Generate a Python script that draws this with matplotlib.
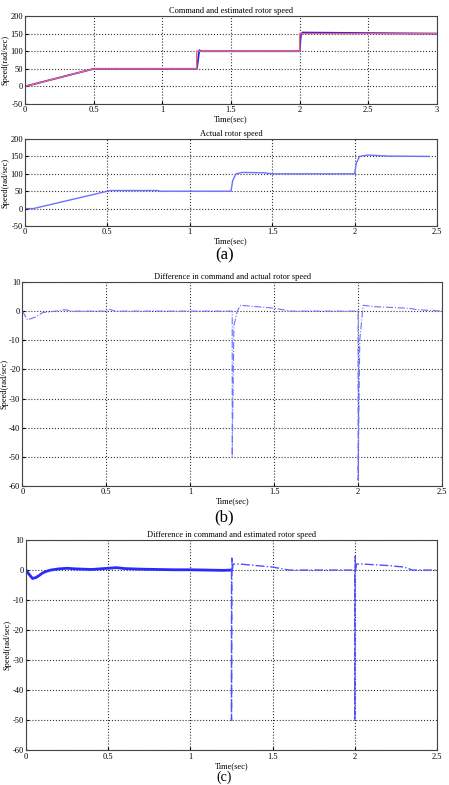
import matplotlib
matplotlib.use("Agg")
import matplotlib.pyplot as plt

plt.rcParams['font.family'] = ['Liberation Serif', 'DejaVu Serif']

# (a) top: command vs estimated speed
cmd_t = [0, 0.5, 1.25, 1.25, 2.0, 2.0, 3.0]
cmd_v = [0, 50, 50, 100, 100, 150, 150]
est_t = [0, 0.5, 1.25, 1.255, 1.26, 1.265, 1.27, 1.28, 2.0, 2.005, 2.01, 2.02, 3.0]
est_v = [0, 50, 50, 60, 75, 92, 103, 100, 100, 130, 148, 153, 150]

# (a) bottom: actual speed
act_t = [0, 0.05, 0.5, 0.52, 0.8, 0.82, 1.25, 1.26, 1.28, 1.32, 1.45, 1.5, 2.0, 2.01, 2.03, 2.08, 2.2, 2.45]
act_v = [0, 0, 50, 52, 52, 50, 50, 80, 100, 104, 103, 100, 100, 130, 150, 154, 151, 150]

# (b) command - actual
da_t = [0, 0.03, 0.08, 0.12, 0.2, 0.25, 0.3, 0.5, 0.52, 0.55, 1.0, 1.25, 1.25, 1.26, 1.28, 1.3,
        1.4, 1.5, 1.6, 2.0, 2.0, 2.01, 2.03, 2.1, 2.3, 2.35, 2.5]
da_v = [0, -3, -2, -0.5, 0, 0.5, 0, 0, 0.6, 0, 0, 0, -50, -5, 0, 2, 1.5, 1, 0, 0, -58, -10,
        2, 1.5, 1, 0.5, 0]

# (c) command - estimated
de_t1 = [0, 0.02, 0.04, 0.06, 0.08, 0.1, 0.12, 0.15, 0.2, 0.25, 0.3, 0.4, 0.5, 0.55, 0.6,
         0.7, 0.8, 0.9, 1.0, 1.1, 1.2, 1.25]
de_v1 = [0, -1.5, -2.8, -2.5, -1.8, -1, -0.5, 0, 0.4, 0.6, 0.4, 0.2, 0.6, 0.8, 0.5,
         0.3, 0.2, 0.1, 0.1, 0, -0.1, 0]
de_t2 = [1.25, 1.25, 1.252, 1.255, 1.26, 1.3, 1.4, 1.5, 1.6, 2.0, 2.0, 2.002, 2.005, 2.01,
         2.05, 2.2, 2.3, 2.35, 2.5]
de_v2 = [0, -50, 4, 0, 2, 2, 1.5, 1, 0, 0, -50, 4.5, 0, 2, 2, 1.5, 1, 0, 0]

title_fs = 6
tick_fs = 6
lab_fs = 6

grid_kw = dict(color='#333333', linestyle=':', linewidth=0.8)


def style(ax, xlim, ylim, xticks, yticks, title):
    ax.set_xlim(*xlim)
    ax.set_ylim(*ylim)
    ax.set_xticks(xticks)
    ax.set_yticks(yticks)
    ax.set_xticklabels([('%g' % t) for t in xticks], fontsize=tick_fs)
    ax.set_yticklabels([('%g' % t) for t in yticks], fontsize=tick_fs)
    ax.tick_params(direction='in', length=2, pad=1.5)
    ax.grid(True, **grid_kw)
    ax.set_title(title, fontsize=title_fs, pad=2)
    ax.set_xlabel('Time(sec)', fontsize=lab_fs, labelpad=1)
    ax.set_ylabel('Speed(rad/sec)', fontsize=lab_fs, labelpad=0.5)
    for s in ax.spines.values():
        s.set_color('#444444')
        s.set_linewidth(0.8)


fig = plt.figure(figsize=(4.49, 7.85), dpi=100)

ax1 = fig.add_axes([0.0557, 0.8675, 0.9176, 0.1121])
ax1.plot(est_t, est_v, color='#2020ff', lw=1.3)
ax1.plot(cmd_t, cmd_v, color='#f06070', lw=1.0)
style(ax1, (0, 3), (-50, 200), [0, 0.5, 1, 1.5, 2, 2.5, 3], [-50, 0, 50, 100, 150, 200],
      'Command and estimated rotor speed')

ax2 = fig.add_axes([0.0557, 0.7121, 0.9176, 0.1108])
ax2.plot(act_t, act_v, color='#7070ff', lw=1.0)
style(ax2, (0, 2.5), (-50, 200), [0, 0.5, 1, 1.5, 2, 2.5], [-50, 0, 50, 100, 150, 200],
      'Actual rotor speed')

ax3 = fig.add_axes([0.05, 0.3809, 0.9344, 0.2599])
ax3.plot(da_t, da_v, color='#7070ff', lw=0.8, linestyle='-.')
style(ax3, (0, 2.5), (-60, 10), [0, 0.5, 1, 1.5, 2, 2.5], list(range(10, -70, -10)),
      'Difference in command and actual rotor speed')

ax4 = fig.add_axes([0.0579, 0.0440, 0.9154, 0.2681])
ax4.plot(de_t1, de_v1, color='#2a2aff', lw=2.0)
ax4.plot(de_t2, de_v2, color='#5050ff', lw=1.0, linestyle='-.')
style(ax4, (0, 2.5), (-60, 10), [0, 0.5, 1, 1.5, 2, 2.5], list(range(10, -70, -10)),
      'Difference in command and estimated rotor speed')

fig.text(0.5, 0.675, '(a)', fontsize=12, ha='center', va='center')
fig.text(0.5, 0.341, '(b)', fontsize=12, ha='center', va='center')
fig.text(0.5, 0.001, '(c)', fontsize=10, ha='center', va='bottom')

fig.savefig('out.png', dpi=100)
